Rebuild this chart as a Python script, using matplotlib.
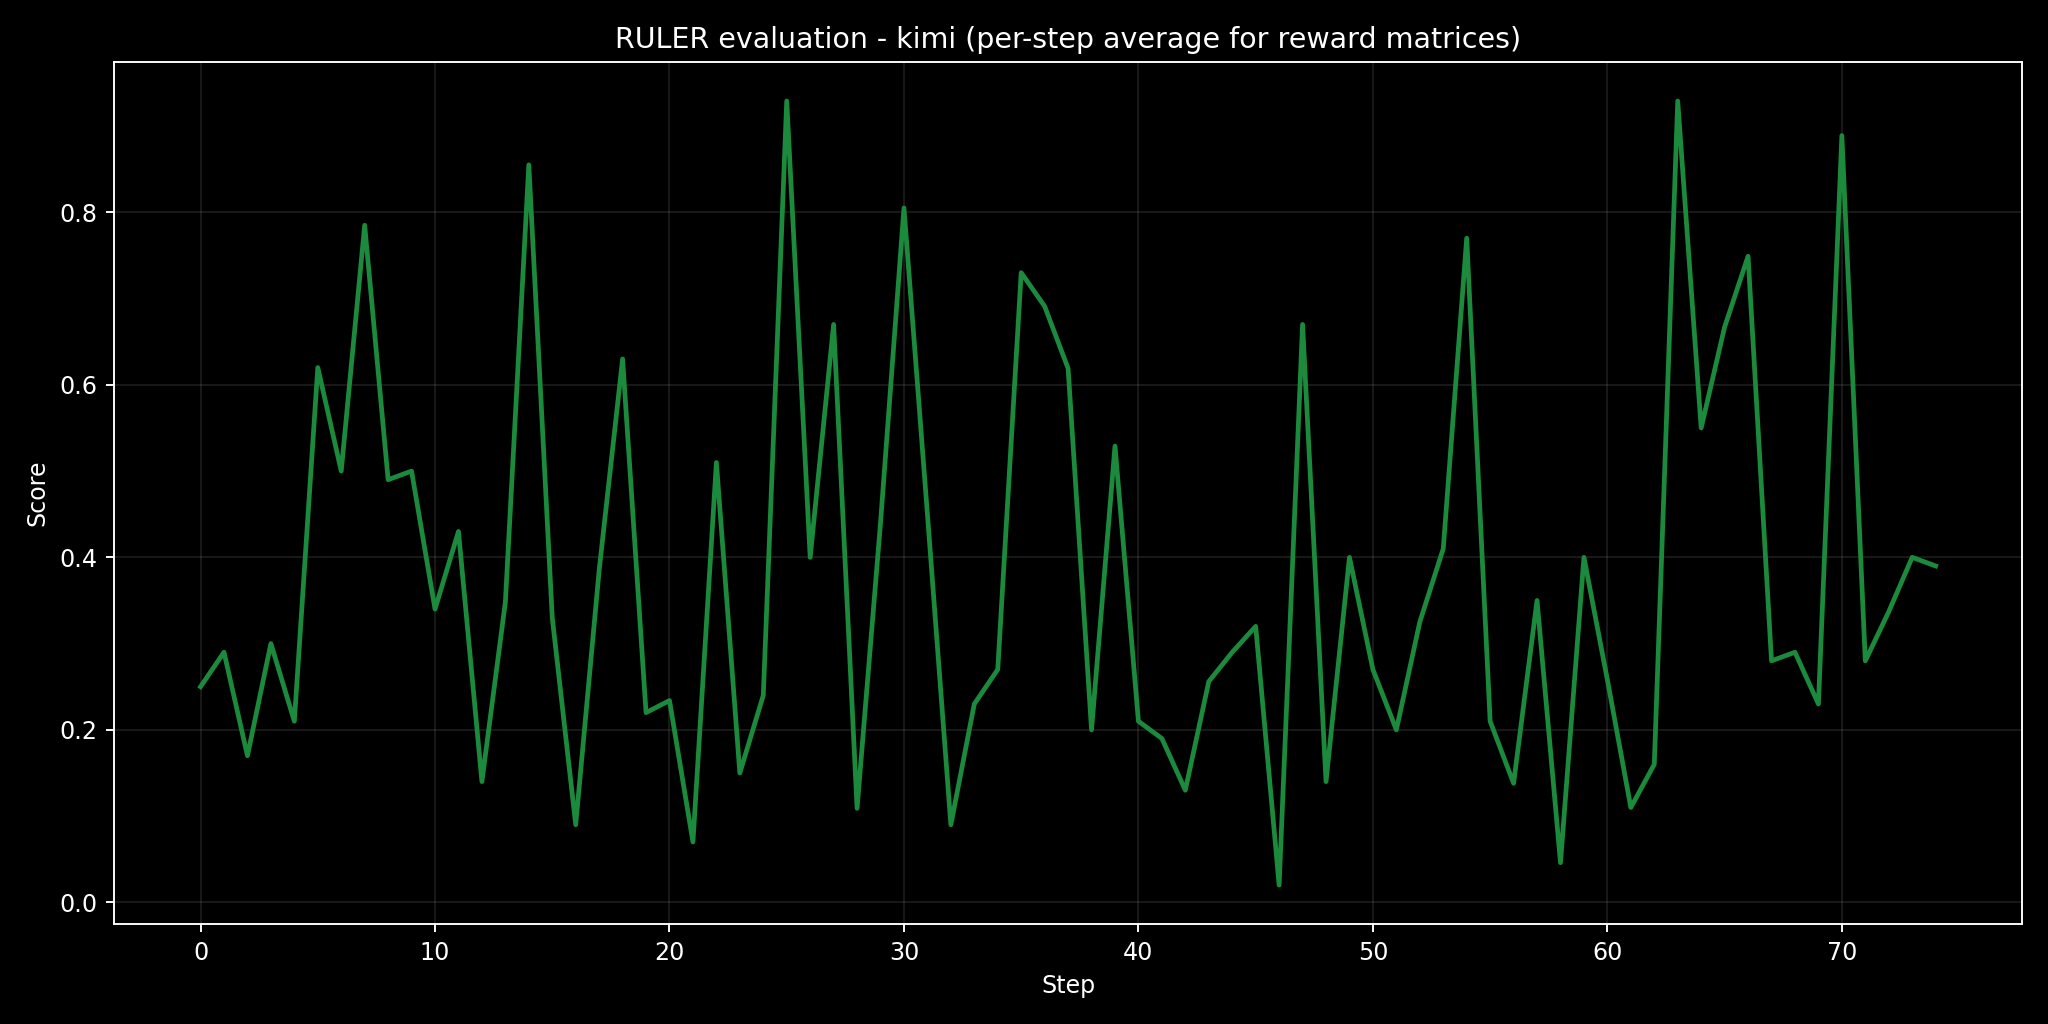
import numpy as np
import matplotlib
matplotlib.use("Agg")
import matplotlib.pyplot as plt

# per-step average scores
steps = list(range(75))
scores = [0.25, 0.29, 0.17, 0.30, 0.21, 0.62, 0.50, 0.785, 0.49, 0.50,
          0.34, 0.43, 0.14, 0.348, 0.855, 0.33, 0.09, 0.385, 0.63, 0.22,
          0.234, 0.07, 0.51, 0.15, 0.24, 0.929, 0.40, 0.67, 0.109, 0.44,
          0.805, 0.45, 0.09, 0.23, 0.27, 0.73, 0.691, 0.619, 0.20, 0.529,
          0.21, 0.19, 0.13, 0.256, 0.29, 0.32, 0.02, 0.67, 0.14, 0.40,
          0.27, 0.20, 0.325, 0.41, 0.77, 0.21, 0.138, 0.35, 0.046, 0.40,
          0.258, 0.11, 0.16, 0.929, 0.55, 0.667, 0.749, 0.28, 0.29, 0.23,
          0.889, 0.28, 0.337, 0.40, 0.39]

title = "RULER evaluation - kimi (per-step average for reward matrices)"

DPI = 2048 / 12

plt.style.use("dark_background")
fig, ax = plt.subplots(figsize=(12, 6), dpi=DPI)

ax.plot(steps, scores, color="#1b8a3c", linewidth=2)

ax.set_title(title)
ax.set_xlabel("Step")
ax.set_ylabel("Score")
ax.grid(True, color="gray", alpha=0.2)

plt.tight_layout()
plt.savefig("out.png", dpi=DPI)
